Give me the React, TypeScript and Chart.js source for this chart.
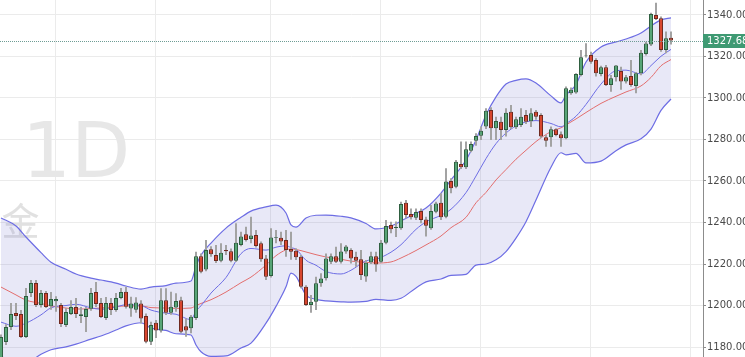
import React, { useEffect, useRef } from "react";
import { Chart, registerables } from "chart.js";

Chart.register(...registerables);

// ---- Candle data (daily, index 0..134) ----
const opens = [
  1174.5, 1182.4, 1189.6, 1196.4, 1195.9, 1184.8, 1206.0, 1210.8, 1200.2, 1206.0,
  1199.7, 1202.0, 1200.2, 1190.6, 1195.9, 1199.3, 1195.0, 1194.5, 1198.4, 1206.5,
  1201.2, 1194.0, 1201.2, 1197.8, 1203.6, 1206.6, 1198.6, 1198.0, 1201.0, 1195.0,
  1182.6, 1191.7, 1188.0, 1202.6, 1196.5, 1199.1, 1202.6, 1190.0, 1189.0, 1194.0,
  1223.8, 1217.3, 1227.1, 1224.3, 1221.6, 1226.8, 1226.2, 1221.6, 1229.2, 1234.3,
  1232.0, 1234.0, 1230.0, 1222.7, 1214.2, 1232.6, 1232.7, 1231.6, 1227.2, 1226.4,
  1223.5, 1209.0, 1200.2, 1201.8, 1210.7, 1213.1, 1221.1, 1223.8, 1221.1, 1226.0,
  1226.7, 1223.5, 1222.3, 1214.0, 1220.9, 1223.8, 1221.1, 1230.3, 1238.8, 1237.3,
  1237.2, 1249.5, 1244.1, 1242.3, 1245.5, 1241.5, 1237.2, 1245.2, 1249.5, 1242.8,
  1260.0, 1257.2, 1268.2, 1266.6, 1274.6, 1279.4, 1281.8, 1286.2, 1294.2, 1285.4,
  1288.6, 1284.6, 1293.4, 1285.9, 1287.0, 1291.8, 1288.8, 1293.4, 1291.8, 1281.1,
  1281.1, 1284.9, 1282.5, 1280.6, 1302.3, 1302.6, 1311.1, 1320.2, 1320.7, 1318.3,
  1311.6, 1314.8, 1306.3, 1310.0, 1313.0, 1307.9, 1310.6, 1305.8, 1311.9, 1321.2,
  1325.8, 1340.0, 1338.4, 1323.1, 1329.0,
];
const highs = [
  1186.0, 1191.0, 1201.2, 1201.2, 1197.8, 1208.4, 1212.3, 1212.3, 1207.5, 1207.0,
  1206.5, 1204.5, 1201.2, 1198.8, 1202.6, 1203.6, 1199.3, 1199.3, 1208.4, 1211.3,
  1203.6, 1204.1, 1203.6, 1206.0, 1208.4, 1209.0, 1204.2, 1204.0, 1202.5, 1196.2,
  1192.2, 1193.0, 1208.3, 1208.3, 1206.6, 1205.9, 1204.2, 1193.8, 1195.4, 1225.9,
  1225.1, 1231.6, 1228.5, 1229.2, 1230.0, 1229.2, 1227.5, 1239.6, 1235.6, 1238.0,
  1242.8, 1236.4, 1230.8, 1224.3, 1237.2, 1236.4, 1235.6, 1236.4, 1235.6, 1227.6,
  1224.3, 1209.8, 1205.1, 1213.9, 1215.5, 1225.1, 1225.1, 1228.3, 1230.0, 1229.2,
  1227.6, 1225.9, 1226.7, 1221.9, 1225.9, 1225.9, 1231.6, 1241.2, 1240.4, 1240.5,
  1250.0, 1250.8, 1246.8, 1246.8, 1246.8, 1242.8, 1248.4, 1250.0, 1254.1, 1266.1,
  1261.3, 1270.1, 1279.0, 1279.0, 1279.0, 1283.0, 1286.2, 1295.0, 1295.5, 1291.0,
  1291.0, 1295.0, 1296.6, 1291.0, 1295.0, 1294.2, 1295.0, 1294.2, 1292.6, 1282.2,
  1286.2, 1285.4, 1283.8, 1305.5, 1305.0, 1311.9, 1323.1, 1326.4, 1322.3, 1319.1,
  1315.5, 1315.9, 1311.1, 1315.9, 1315.1, 1311.1, 1318.3, 1312.5, 1323.1, 1327.1,
  1341.1, 1345.9, 1339.2, 1332.0, 1332.0,
];
const lows = [
  1172.0, 1181.0, 1188.2, 1193.0, 1184.3, 1184.3, 1204.1, 1199.3, 1199.0, 1198.8,
  1198.0, 1197.0, 1189.6, 1189.6, 1195.4, 1194.0, 1191.6, 1187.2, 1197.5, 1199.3,
  1194.0, 1193.0, 1195.4, 1197.0, 1203.0, 1198.6, 1194.6, 1196.5, 1191.4, 1181.8,
  1181.0, 1184.3, 1187.0, 1195.4, 1195.5, 1197.0, 1186.6, 1185.0, 1186.6, 1193.0,
  1215.5, 1216.5, 1223.5, 1220.5, 1220.8, 1224.3, 1220.8, 1221.0, 1228.5, 1230.8,
  1230.0, 1228.0, 1221.1, 1212.3, 1213.5, 1230.0, 1229.2, 1223.5, 1222.0, 1221.9,
  1208.3, 1199.8, 1196.5, 1197.8, 1209.1, 1212.0, 1220.0, 1220.5, 1220.3, 1225.0,
  1220.3, 1218.7, 1212.3, 1211.5, 1220.0, 1216.3, 1220.5, 1229.5, 1234.8, 1233.0,
  1236.5, 1242.0, 1241.5, 1241.2, 1239.6, 1233.2, 1236.5, 1244.5, 1241.2, 1242.0,
  1254.1, 1256.5, 1265.8, 1265.8, 1273.8, 1277.0, 1279.8, 1285.0, 1279.8, 1279.8,
  1279.8, 1281.4, 1285.0, 1285.0, 1286.0, 1287.5, 1286.0, 1289.5, 1280.6, 1276.5,
  1276.5, 1281.5, 1276.5, 1280.1, 1301.5, 1302.0, 1310.5, 1319.5, 1316.5, 1310.3,
  1310.5, 1305.8, 1303.0, 1307.9, 1303.9, 1307.0, 1305.4, 1302.3, 1311.0, 1320.5,
  1325.0, 1337.6, 1322.3, 1321.5, 1325.8,
];
const closes = [
  1184.8, 1189.6, 1195.9, 1195.0, 1184.8, 1204.6, 1210.8, 1200.2, 1206.0, 1199.3,
  1203.1, 1203.2, 1191.1, 1196.9, 1199.3, 1195.9, 1195.8, 1198.3, 1206.0, 1200.7,
  1194.5, 1201.2, 1197.8, 1203.6, 1206.5, 1199.4, 1201.0, 1201.5, 1193.8, 1182.6,
  1190.6, 1188.0, 1202.6, 1196.5, 1199.4, 1202.2, 1187.4, 1188.0, 1194.6, 1223.8,
  1216.3, 1226.7, 1224.7, 1221.4, 1225.4, 1226.2, 1221.6, 1230.3, 1233.2, 1231.6,
  1233.7, 1228.7, 1222.3, 1213.9, 1232.8, 1233.0, 1230.8, 1226.7, 1225.9, 1223.2,
  1209.0, 1200.2, 1201.8, 1210.7, 1213.0, 1222.7, 1223.8, 1221.1, 1226.0, 1228.4,
  1222.7, 1221.6, 1214.7, 1220.6, 1223.8, 1219.8, 1230.3, 1238.3, 1236.7, 1237.8,
  1248.9, 1243.6, 1242.5, 1245.1, 1241.2, 1238.4, 1245.5, 1249.2, 1242.5, 1259.7,
  1256.5, 1269.3, 1266.6, 1275.3, 1277.8, 1281.7, 1284.2, 1293.9, 1285.4, 1288.9,
  1284.6, 1292.9, 1285.9, 1289.7, 1291.0, 1288.6, 1292.6, 1291.0, 1281.4, 1279.4,
  1284.9, 1282.2, 1280.6, 1304.7, 1303.9, 1311.6, 1319.6, 1320.5, 1317.5, 1311.9,
  1314.8, 1306.3, 1309.5, 1315.6, 1307.9, 1310.0, 1306.3, 1311.9, 1321.8, 1326.2,
  1340.5, 1338.1, 1323.1, 1328.8, 1327.68,
];

// ---- Indicator lines, read at these candle positions ----
const bandIndex = [
  0, 3, 5, 8, 10, 13, 15, 18, 20, 23, 25, 28, 30, 33, 35, 38, 39, 40, 42, 45,
  48, 50, 53, 55, 57, 58, 59, 61, 63, 65, 68, 70, 73, 75, 78, 80, 83, 85, 88, 90,
  93, 95, 97, 99, 101, 103, 105, 107, 110, 112, 113, 115, 117, 120, 123, 125, 128, 130, 132, 134,
];
const upperBand = [
  1242.2, 1238.3, 1233.0, 1225.5, 1220.9, 1217.5, 1215.2, 1213.2, 1212.3, 1210.8,
  1209.4, 1207.9, 1208.9, 1209.6, 1210.8, 1211.8, 1219.0, 1224.3, 1230.1, 1237.3,
  1242.5, 1245.5, 1247.5, 1248.4, 1244.6, 1238.8, 1237.8, 1242.2, 1243.5, 1243.6,
  1243.0, 1242.2, 1239.5, 1236.9, 1238.3, 1240.7, 1244.5, 1247.0, 1254.2, 1260.5,
  1270.1, 1279.8, 1291.8, 1300.5, 1306.7, 1308.5, 1309.2, 1307.2, 1301.0, 1297.6,
  1301.4, 1306.5, 1317.3, 1324.6, 1327.0, 1328.4, 1331.3, 1334.7, 1337.6, 1338.6,
];
const middleBand = [
  1208.9, 1205.1, 1202.6, 1201.0, 1199.8, 1198.8, 1198.3, 1198.5, 1198.8, 1199.5,
  1199.8, 1199.8, 1199.0, 1198.8, 1198.6, 1198.8, 1200.0, 1201.0, 1202.8, 1206.5,
  1211.0, 1213.7, 1219.5, 1224.0, 1226.8, 1227.2, 1227.0, 1225.8, 1224.5, 1223.4,
  1222.3, 1221.4, 1220.8, 1220.5, 1221.0, 1222.9, 1226.5, 1229.2, 1233.5, 1237.5,
  1242.5, 1249.5, 1254.5, 1260.5, 1265.5, 1270.5, 1274.8, 1279.0, 1283.8, 1285.6,
  1287.0, 1289.9, 1293.0, 1297.4, 1300.8, 1302.9, 1305.8, 1309.9, 1315.5, 1318.5,
];
const lowerBand = [
  1175.6, 1171.9, 1172.2, 1176.5, 1178.7, 1180.1, 1181.4, 1183.8, 1185.3, 1188.2,
  1190.2, 1191.7, 1189.1, 1188.0, 1186.4, 1185.8, 1181.0, 1177.7, 1175.5, 1175.7,
  1179.5, 1181.9, 1191.5, 1199.6, 1209.0, 1215.6, 1214.0, 1205.0, 1203.0, 1202.2,
  1201.8, 1201.6, 1202.0, 1203.0, 1202.5, 1203.5, 1208.5, 1211.4, 1212.8, 1214.5,
  1215.0, 1219.5, 1220.0, 1222.0, 1226.0, 1232.5, 1240.4, 1250.8, 1266.6, 1273.6,
  1272.6, 1273.3, 1268.7, 1269.6, 1274.6, 1277.4, 1280.3, 1285.0, 1294.0, 1299.5,
];
const fastAverage = [
  1192.0, 1190.0, 1191.5, 1195.5, 1198.9, 1200.0, 1200.6, 1198.9, 1198.2, 1199.3,
  1200.4, 1200.0, 1197.8, 1196.3, 1195.8, 1193.2, 1197.3, 1199.9, 1206.0, 1213.5,
  1225.0, 1227.5, 1226.7, 1228.1, 1228.8, 1227.9, 1227.1, 1221.8, 1219.4, 1216.4,
  1215.2, 1217.0, 1221.5, 1222.3, 1225.7, 1229.3, 1236.7, 1240.3, 1243.5, 1246.4,
  1254.4, 1262.4, 1270.8, 1278.0, 1283.1, 1286.5, 1288.5, 1289.1, 1287.7, 1286.1,
  1287.6, 1291.2, 1296.9, 1306.7, 1313.1, 1313.4, 1311.6, 1315.6, 1320.1, 1323.4,
];

// ---- Axes ----
const yTicks = [1180, 1200, 1220, 1240, 1260, 1280, 1300, 1320, 1340];
const yMin = 1175.2;
const yMax = 1347.2;
const monthLines = [10.85, 30.85, 53.95, 75.95, 95.95, 117.95, 137.95];
const xMin = -0.2;
const xMax = 140.4;
const lastPrice = 1327.68;
const intervalLabel = "1D";
const symbolLabel = "金";

const GREEN = "#58a577";
const GREEN_EDGE = "#2f5f40";
const RED = "#d8462f";
const RED_EDGE = "#6f2a20";
const BAND = "#6d6de4";

const overlayPlugin = {
  id: "overlay",
  beforeDatasetsDraw(chart: any) {
    const { ctx, chartArea } = chart;
    ctx.save();
    ctx.beginPath();
    ctx.rect(chartArea.left, chartArea.top, chartArea.right - chartArea.left, chartArea.bottom - chartArea.top);
    ctx.clip();
    ctx.fillStyle = "#e7e7e7";
    ctx.font = '77px "DejaVu Sans"';
    ctx.textAlign = "left";
    ctx.textBaseline = "alphabetic";
    ctx.fillText(intervalLabel, 22, 177);
    ctx.fillStyle = "#e1e1e1";
    ctx.font = '38px "Noto Sans CJK SC"';
    ctx.textAlign = "center";
    ctx.textBaseline = "middle";
    ctx.fillText(symbolLabel, 20.5, 221);
    ctx.restore();
  },
  afterDatasetsDraw(chart: any) {
    const { ctx, chartArea } = chart;
    const y = Math.round(chart.scales.y.getPixelForValue(lastPrice)) + 0.5;
    ctx.save();
    ctx.strokeStyle = "#6f9d95";
    ctx.lineWidth = 1;
    ctx.setLineDash([1, 1]);
    ctx.beginPath();
    ctx.moveTo(chartArea.left, y);
    ctx.lineTo(chartArea.right, y);
    ctx.stroke();
    ctx.restore();
  },
  afterDraw(chart: any) {
    const { ctx, chartArea, width } = chart;
    const y = Math.round(chart.scales.y.getPixelForValue(lastPrice));
    ctx.save();
    ctx.fillStyle = "#3f9a73";
    ctx.fillRect(chartArea.right, y - 7, width - chartArea.right, 14);
    ctx.fillStyle = "#ffffff";
    ctx.font = '10px "DejaVu Sans"';
    ctx.textAlign = "left";
    ctx.textBaseline = "middle";
    ctx.fillText(lastPrice.toFixed(2), chartArea.right + 4, y + 0.5);
    ctx.restore();
  },
};

export default function App() {
  const canvasRef = useRef<HTMLCanvasElement | null>(null);

  useEffect(() => {
    const canvas = canvasRef.current;
    if (!canvas) return;
    const idx = closes.map((_, i) => i);
    const line = (vals: number[]) => bandIndex.map((x, k) => ({ x, y: vals[k] }));
    const candleFill = (c: any) => (closes[c.dataIndex] >= opens[c.dataIndex] ? GREEN : RED);
    const candleEdge = (c: any) => (closes[c.dataIndex] >= opens[c.dataIndex] ? GREEN_EDGE : RED_EDGE);

    const chart = new Chart(canvas, {
      type: "bar",
      data: {
        datasets: [
          {
            type: "line",
            data: line(upperBand),
            borderColor: BAND,
            borderWidth: 1.2,
            backgroundColor: "rgba(120,120,205,0.17)",
            fill: "+1",
            pointRadius: 0,
            cubicInterpolationMode: "monotone",
            order: 5,
          },
          {
            type: "line",
            data: line(lowerBand),
            borderColor: BAND,
            borderWidth: 1.2,
            fill: false,
            pointRadius: 0,
            cubicInterpolationMode: "monotone",
            order: 4,
          },
          {
            type: "line",
            data: line(middleBand),
            borderColor: "#e26d6d",
            borderWidth: 1,
            fill: false,
            pointRadius: 0,
            cubicInterpolationMode: "monotone",
            order: 3,
          },
          {
            type: "line",
            data: line(fastAverage),
            borderColor: BAND,
            borderWidth: 1,
            fill: false,
            pointRadius: 0,
            cubicInterpolationMode: "monotone",
            order: 2,
          },
          {
            type: "bar",
            data: idx.map((i) => ({ x: i, y: [lows[i], highs[i]] })),
            backgroundColor: "#a3a3a3",
            borderWidth: 0,
            barThickness: 2,
            grouped: false,
            inflateAmount: 0,
            order: 1,
          } as any,
          {
            type: "bar",
            data: idx.map((i) => ({ x: i, y: [opens[i], closes[i]] })),
            backgroundColor: candleFill,
            borderColor: candleEdge,
            borderWidth: 1,
            borderSkipped: false,
            barThickness: 4,
            grouped: false,
            inflateAmount: 0,
            order: 0,
          } as any,
        ],
      },
      options: {
        animation: false,
        responsive: true,
        maintainAspectRatio: false,
        events: [],
        layout: { padding: 0 },
        plugins: { legend: { display: false }, tooltip: { enabled: false } },
        scales: {
          x: {
            type: "linear",
            min: xMin,
            max: xMax,
            offset: false,
            ticks: { display: false },
            grid: { color: "#ebebeb", drawTicks: false, offset: false },
            border: { display: false },
            afterBuildTicks: (scale: any) => {
              scale.ticks = monthLines.map((v) => ({ value: v }));
            },
            afterFit: (scale: any) => {
              scale.height = 0;
              scale.paddingLeft = 0;
              scale.paddingRight = 0;
            },
          },
          y: {
            type: "linear",
            position: "right",
            min: yMin,
            max: yMax,
            afterBuildTicks: (scale: any) => {
              scale.ticks = yTicks.map((v) => ({ value: v }));
            },
            afterFit: (scale: any) => {
              scale.width = 42;
              scale.paddingTop = 0;
              scale.paddingBottom = 0;
            },
            ticks: {
              callback: (v: any) => Number(v).toFixed(2),
              color: "#4a4a4a",
              font: { family: '"DejaVu Sans"', size: 10 },
              padding: 1,
              autoSkip: false,
            },
            grid: { color: "#ebebeb", tickColor: "#8c8c8c", tickLength: 3 },
            border: { display: true, color: "#8c8c8c", width: 1 },
          },
        },
      },
      plugins: [overlayPlugin],
    } as any);

    return () => chart.destroy();
  }, []);

  return (
    <div style={{ position: "fixed", left: 0, top: 0, width: 745, height: 357, background: "#ffffff" }}>
      <canvas ref={canvasRef} />
    </div>
  );
}
